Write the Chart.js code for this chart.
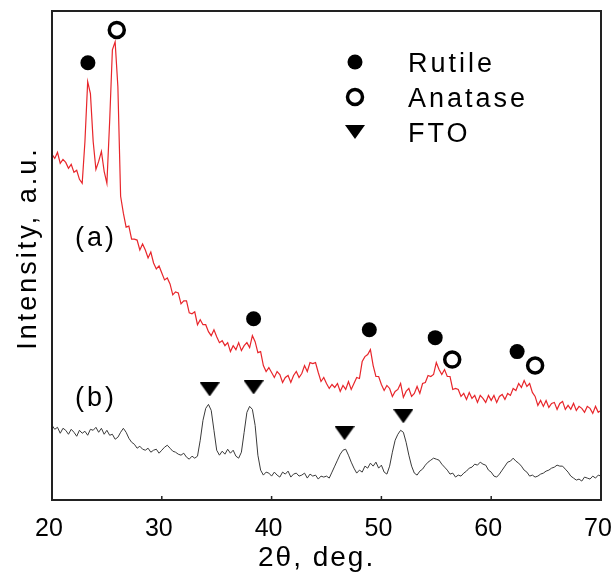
<!DOCTYPE html>
<html>
<head>
<meta charset="utf-8">
<script src="https://cdn.jsdelivr.net/npm/chart.js@4"></script>
<style>
  html, body { margin: 0; padding: 0; background: #fff; }
  #chart { display: block; }
</style>
</head>
<body>
<canvas id="chart" width="612" height="572"></canvas>
<script>
// 2theta (deg) sampled every 0.25
const twoTheta = [
  20.00, 20.25, 20.50, 20.75, 21.00, 21.25, 21.50, 21.75, 22.00, 22.25, 22.50, 22.75,
  23.00, 23.25, 23.50, 23.75, 24.00, 24.25, 24.50, 24.75, 25.00, 25.25, 25.50, 25.75,
  26.00, 26.25, 26.50, 26.75, 27.00, 27.25, 27.50, 27.75, 28.00, 28.25, 28.50, 28.75,
  29.00, 29.25, 29.50, 29.75, 30.00, 30.25, 30.50, 30.75, 31.00, 31.25, 31.50, 31.75,
  32.00, 32.25, 32.50, 32.75, 33.00, 33.25, 33.50, 33.75, 34.00, 34.25, 34.50, 34.75,
  35.00, 35.25, 35.50, 35.75, 36.00, 36.25, 36.50, 36.75, 37.00, 37.25, 37.50, 37.75,
  38.00, 38.25, 38.50, 38.75, 39.00, 39.25, 39.50, 39.75, 40.00, 40.25, 40.50, 40.75,
  41.00, 41.25, 41.50, 41.75, 42.00, 42.25, 42.50, 42.75, 43.00, 43.25, 43.50, 43.75,
  44.00, 44.25, 44.50, 44.75, 45.00, 45.25, 45.50, 45.75, 46.00, 46.25, 46.50, 46.75,
  47.00, 47.25, 47.50, 47.75, 48.00, 48.25, 48.50, 48.75, 49.00, 49.25, 49.50, 49.75,
  50.00, 50.25, 50.50, 50.75, 51.00, 51.25, 51.50, 51.75, 52.00, 52.25, 52.50, 52.75,
  53.00, 53.25, 53.50, 53.75, 54.00, 54.25, 54.50, 54.75, 55.00, 55.25, 55.50, 55.75,
  56.00, 56.25, 56.50, 56.75, 57.00, 57.25, 57.50, 57.75, 58.00, 58.25, 58.50, 58.75,
  59.00, 59.25, 59.50, 59.75, 60.00, 60.25, 60.50, 60.75, 61.00, 61.25, 61.50, 61.75,
  62.00, 62.25, 62.50, 62.75, 63.00, 63.25, 63.50, 63.75, 64.00, 64.25, 64.50, 64.75,
  65.00, 65.25, 65.50, 65.75, 66.00, 66.25, 66.50, 66.75, 67.00, 67.25, 67.50, 67.75,
  68.00, 68.25, 68.50, 68.75, 69.00, 69.25, 69.50, 69.75, 70.00
];

// sample (a) - red
const intensityA = [
  347, 343, 349, 338, 342, 339, 333, 337, 329, 331, 322, 318,
  360, 420, 408, 360, 332, 340, 350, 330, 318, 380, 452, 460,
  415, 305, 288, 274, 275, 262, 262, 261, 251, 257, 251, 243,
  249, 238, 232, 235, 228, 221, 223, 217, 206, 209, 208, 197,
  200, 200, 188, 187, 189, 176, 181, 176, 176, 169, 165, 171,
  164, 158, 160, 155, 158, 149, 155, 151, 158, 150, 155, 158,
  153, 165, 159, 148, 149, 135, 129, 133, 128, 123, 129, 126,
  118, 123, 125, 118, 125, 129, 123, 127, 135, 129, 138, 137,
  138, 128, 119, 123, 117, 112, 116, 113, 117, 109, 115, 111,
  119, 111, 117, 123, 122, 139, 144, 146, 151, 135, 124, 124,
  116, 110, 115, 112, 104, 109, 111, 117, 103, 109, 112, 104,
  107, 114, 107, 117, 118, 125, 124, 126, 138, 131, 126, 131,
  124, 124, 111, 112, 111, 104, 107, 101, 108, 102, 105, 98,
  105, 102, 98, 105, 100, 105, 98, 104, 106, 101, 107, 105,
  112, 110, 117, 113, 120, 114, 117, 108, 104, 95, 100, 94,
  100, 93, 97, 98, 91, 97, 99, 91, 95, 91, 97, 90,
  94, 92, 88, 94, 92, 87, 94, 88, 90
];

// sample (b) - black
const intensityB = [
  75, 71, 73, 67, 72, 70, 66, 71, 68, 64, 70, 67,
  69, 65, 71, 70, 73, 68, 72, 66, 70, 65, 66, 61,
  63, 68, 72, 68, 62, 58, 56, 52, 54, 51, 50, 52,
  48, 50, 51, 47, 50, 53, 55, 52, 49, 48, 46, 45,
  47, 43, 41, 44, 42, 44, 60, 80, 92, 96, 90, 70,
  50, 45, 49, 46, 51, 47, 50, 44, 42, 48, 68, 88,
  94, 91, 75, 45, 30, 25, 28, 27, 24, 28, 25, 23,
  28, 26, 29, 23, 26, 27, 24, 25, 27, 22, 26, 24,
  25, 21, 24, 23, 24, 22, 28, 34, 40, 46, 50, 51,
  45, 38, 32, 27, 30, 28, 34, 32, 37, 34, 38, 32,
  35, 28, 26, 34, 48, 60, 66, 70, 68, 58, 45, 34,
  27, 25, 29, 31, 35, 38, 40, 42, 41, 40, 36, 33,
  30, 26, 27, 23, 25, 24, 27, 29, 32, 33, 36, 35,
  38, 36, 35, 30, 28, 24, 23, 26, 30, 34, 38, 39,
  42, 39, 37, 34, 30, 28, 24, 25, 23, 24, 26, 27,
  29, 30, 32, 33, 35, 34, 34, 31, 28, 24, 22, 20,
  21, 19, 23, 22, 21, 24, 22, 25, 24
];

// peak markers
const rutileAngles = [23.27, 38.36, 48.9, 54.9, 62.36];
const rutileHeights = [439, 182, 171, 163, 149];
const anataseAngles = [25.9, 56.45, 64.0];
const anataseHeights = [472, 141, 135];
const ftoAngles = [34.36, 38.36, 46.64, 52.0];
const ftoHeights = [111, 113, 67, 84];

const xTicks = [20, 30, 40, 50, 60, 70];
const legendLabels = ['Rutile', 'Anatase', 'FTO'];

const FONT = "'Liberation Sans', Arial, sans-serif";

const toPoints = (xs, ys) => xs.map((x, i) => ({ x: x, y: ys[i] }));

// downward triangle marker
const makeTriangle = () => {
    const c = document.createElement('canvas');
    c.width = 20;
    c.height = 14;
    const g = c.getContext('2d');
    g.fillStyle = '#000';
    g.beginPath();
    g.moveTo(0, 0);
    g.lineTo(20, 0);
    g.lineTo(10, 14);
    g.closePath();
    g.fill();
    return c;
};
const triangle = makeTriangle();

const drawCircle = (ctx, x, y, filled) => {
    ctx.beginPath();
    ctx.arc(x, y, 7.5, 0, Math.PI * 2);
    if (filled) {
        ctx.fillStyle = '#000';
        ctx.fill();
    } else {
        ctx.fillStyle = '#fff';
        ctx.fill();
        ctx.lineWidth = 3.5;
        ctx.strokeStyle = '#000';
        ctx.stroke();
    }
};

const decorations = {
    id: 'decorations',
    afterDraw(chart) {
        const { ctx, chartArea: a, scales } = chart;
        ctx.save();

        // frame
        ctx.strokeStyle = '#222';
        ctx.lineWidth = 2;
        ctx.strokeRect(a.left, a.top, a.right - a.left, a.bottom - a.top);

        // inner tick marks
        ctx.lineWidth = 1.5;
        xTicks.slice(1, -1).forEach((t) => {
            const px = scales.x.getPixelForValue(t);
            ctx.beginPath();
            ctx.moveTo(px, a.bottom);
            ctx.lineTo(px, a.bottom - 4);
            ctx.stroke();
        });

        ctx.fillStyle = '#000';
        ctx.textBaseline = 'alphabetic';
        ctx.textAlign = 'left';

        // legend
        ctx.font = '27px ' + FONT;
        ctx.letterSpacing = '3px';
        const rows = [62, 97, 132];
        drawCircle(ctx, 355, rows[0], true);
        drawCircle(ctx, 355, rows[1], false);
        ctx.drawImage(triangle, 345, rows[2] - 7);
        ctx.fillStyle = '#000';
        legendLabels.forEach((lbl, i) => {
            ctx.fillText(lbl, 408, rows[i] + 10);
        });

        // curve labels
        ctx.fillText('(a)', 75, 246);
        ctx.fillText('(b)', 75, 406);

        // x title
        ctx.font = '28px ' + FONT;
        ctx.letterSpacing = '2px';
        ctx.fillText('2\u03B8, deg.', 258, 566);

        // y title
        ctx.font = '27px ' + FONT;
        ctx.letterSpacing = '3px';
        ctx.translate(36, 248);
        ctx.rotate(-Math.PI / 2);
        ctx.textAlign = 'center';
        ctx.fillText('Intensity, a.u.', 0, 0);

        ctx.restore();
    }
};

const ctx = document.getElementById('chart').getContext('2d');

new Chart(ctx, {
    type: 'line',
    data: {
        datasets: [
            {
                label: 'Rutile',
                data: toPoints(rutileAngles, rutileHeights),
                showLine: false,
                pointStyle: 'circle',
                pointRadius: 7.5,
                pointBackgroundColor: '#000',
                pointBorderWidth: 0,
            }, {
                label: 'Anatase',
                data: toPoints(anataseAngles, anataseHeights),
                showLine: false,
                pointStyle: 'circle',
                pointRadius: 7.5,
                pointBackgroundColor: '#fff',
                pointBorderColor: '#000',
                pointBorderWidth: 3.5,
            }, {
                label: 'FTO',
                data: toPoints(ftoAngles, ftoHeights),
                showLine: false,
                pointStyle: triangle,
            }, {
                label: '(a)',
                data: toPoints(twoTheta, intensityA),
                borderColor: '#e8262b',
                borderWidth: 1.2,
                pointRadius: 0,
                tension: 0,
            }, {
                label: '(b)',
                data: toPoints(twoTheta, intensityB),
                borderColor: '#3a3a3a',
                borderWidth: 1,
                pointRadius: 0,
                tension: 0,
            },
        ]
    },
    options: {
        responsive: false,
        animation: false,
        layout: {
            padding: { top: 9, right: 10, left: 0, bottom: 0 }
        },
        plugins: {
            legend: { display: false },
            tooltip: { enabled: false },
        },
        scales: {
            x: {
                type: 'linear',
                min: 20,
                max: 70,
                afterFit: (scale) => {
                    scale.height = 72;
                    scale.paddingLeft = 0;
                    scale.paddingRight = 0;
                },
                afterBuildTicks: (scale) => {
                    scale.ticks = xTicks.map((v) => ({ value: v }));
                },
                grid: { display: false, drawTicks: false },
                border: { display: false },
                ticks: {
                    padding: 14,
                    labelOffset: -3,
                    color: '#000',
                    font: { family: FONT, size: 25 },
                },
            },
            y: {
                min: 0,
                max: 491,
                afterFit: (scale) => { scale.width = 52; },
                grid: { display: false, drawTicks: false },
                border: { display: false },
                ticks: { display: false },
            },
        },
    },
    plugins: [decorations],
});
</script>
</body>
</html>
